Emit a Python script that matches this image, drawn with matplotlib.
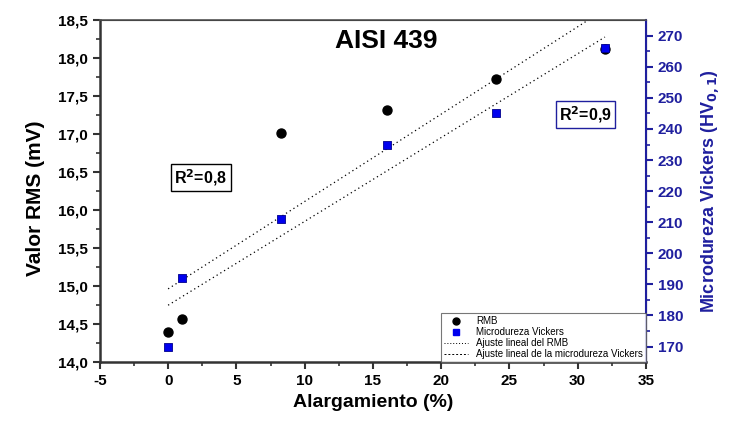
import numpy as np
import matplotlib
matplotlib.use("Agg")
from matplotlib import pyplot as plt
from matplotlib.lines import Line2D

plt.rcParams['font.family'] = ['Liberation Sans', 'DejaVu Sans']
plt.rcParams['axes.unicode_minus'] = False

# Data
elongation = [0, 1, 8.3, 16, 24, 32]
rms_values = [14.39, 14.57, 17.01, 17.32, 17.72, 18.12]
vickers_values = [170, 192, 211, 235, 245, 266]

left_ticks = [14.0, 14.5, 15.0, 15.5, 16.0, 16.5, 17.0, 17.5, 18.0, 18.5]
right_ticks = [170, 180, 190, 200, 210, 220, 230, 240, 250, 260, 270]
x_ticks = [-5, 0, 5, 10, 15, 20, 25, 30, 35]

navy = '#1f1f9e'
dark = '#333333'

fig = plt.figure(figsize=(7.29, 4.21), dpi=100)
ax = fig.add_axes([0.137, 0.140, 0.749, 0.812])
ax2 = ax.twinx()

# linear fits
x = np.array(elongation)
p_rms = np.polyfit(x, rms_values, 1)
p_vk = np.polyfit(x, vickers_values, 1)
xf = np.array([min(elongation), max(elongation)])
ax.plot(xf, np.polyval(p_rms, xf), color='black', lw=0.9, ls=(0, (1, 2.5)), zorder=2)
ax2.plot(xf, np.polyval(p_vk, xf), color='black', lw=0.9, ls=(0, (1, 2.5)), zorder=2)

ax.scatter(elongation, rms_values, s=42, color='black', marker='o', zorder=4)
ax2.scatter(elongation, vickers_values, s=38, color='#0000ee', edgecolor='#00008b',
            marker='s', linewidths=0.6, zorder=3)

ax.set_xlim(-5, 35)
ax.set_ylim(14.0, 18.5)
ax2.set_ylim(165, 275)

ax.set_xticks(x_ticks)
ax.set_xticks(np.arange(-2.5, 35, 5), minor=True)
ax.set_yticks(left_ticks)
ax.set_yticks(np.arange(14.25, 18.5, 0.5), minor=True)
ax.set_yticklabels([('%.1f' % v).replace('.', ',') for v in left_ticks])
ax2.set_yticks(right_ticks)
ax2.set_yticks(np.arange(175, 275, 10), minor=True)

for lab in ax.get_xticklabels() + ax.get_yticklabels():
    lab.set_fontweight('bold')
    lab.set_fontsize(11)
for lab in ax2.get_yticklabels():
    lab.set_fontweight('bold')
    lab.set_fontsize(11)
    lab.set_color(navy)

ax.tick_params(axis='both', which='major', direction='out', length=5, width=1.5, color=dark)
ax.tick_params(axis='both', which='minor', direction='out', length=3, width=1.2, color=dark)
ax2.tick_params(axis='y', which='major', direction='out', length=5, width=1.5, color=navy)
ax2.tick_params(axis='y', which='minor', direction='out', length=3, width=1.2, color=navy)

for sp in ['left', 'bottom']:
    ax.spines[sp].set_linewidth(1.8)
    ax.spines[sp].set_color(dark)
ax2.spines['top'].set_linewidth(1.2)
ax2.spines['top'].set_color('#555555')
ax2.spines['right'].set_linewidth(1.5)
ax2.spines['right'].set_color(navy)
ax2.spines['left'].set_visible(False)
ax2.spines['bottom'].set_visible(False)

ax.set_xlabel('Alargamiento (%)', fontsize=14, fontweight='bold')
ax.xaxis.set_label_coords(0.5, -0.092)
ax.set_ylabel('Valor RMS (mV)', fontsize=15, fontweight='bold')
ax.yaxis.set_label_coords(-0.100, 0.48)
ax2.set_ylabel('Microdureza Vickers (HV$_{\\mathbf{0,1}}$)', fontsize=13, fontweight='bold',
               color=navy)
ax2.yaxis.set_label_coords(1.097, 0.5)

ax.text(0.525, 0.94, 'AISI 439', transform=ax.transAxes, ha='center', va='center',
        fontsize=19, fontweight='bold')
ax.text(2.4, 16.43, 'R$^\\mathbf{2}$=0,8', ha='center', va='center', fontsize=11.5,
        fontweight='bold', bbox=dict(boxstyle='square,pad=0.2', fc='white', ec='black', lw=1))
ax.text(30.6, 17.26, 'R$^\\mathbf{2}$=0,9', ha='center', va='center', fontsize=11.5,
        fontweight='bold', bbox=dict(boxstyle='square,pad=0.2', fc='white', ec=navy, lw=1))

handles = [
    Line2D([], [], ls='none', marker='o', color='black', markersize=5),
    Line2D([], [], ls='none', marker='s', color='#0000ee', markersize=5),
    Line2D([], [], color='black', lw=0.7, ls=(0, (1, 2))),
    Line2D([], [], color='black', lw=0.7, ls=(0, (2, 2))),
]
labels = ['RMB', 'Microdureza Vickers', 'Ajuste lineal del RMB',
          'Ajuste lineal de la microdureza Vickers']
leg = ax2.legend(handles, labels, loc='lower right', fontsize=7, frameon=True,
                 fancybox=False, edgecolor='#555555', handlelength=2.5,
                 borderpad=0.3, labelspacing=0.1, borderaxespad=0.0)
leg.get_frame().set_linewidth(0.8)
leg.set_zorder(10)

fig.savefig('out.png', dpi=100)
